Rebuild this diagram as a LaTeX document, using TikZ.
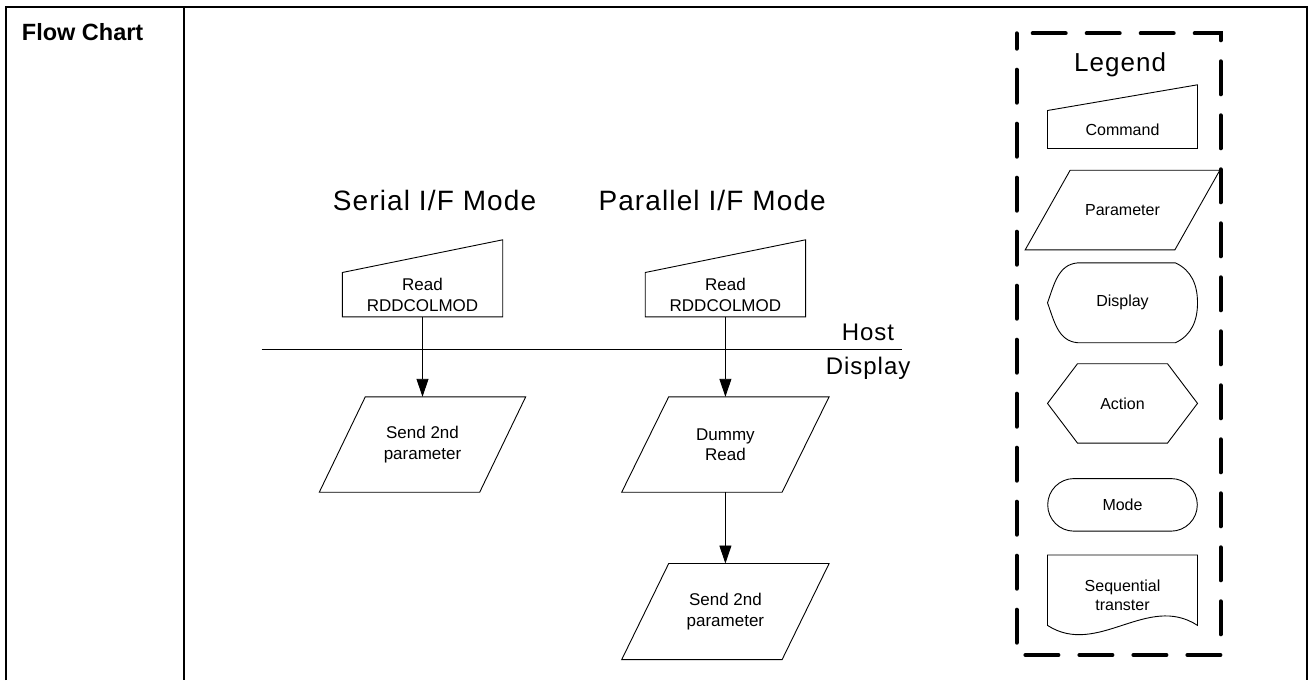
\documentclass[tikz,border=0pt]{standalone}
\usepackage{fontspec}
\setmainfont{Liberation Sans}
\newfontfamily\widefont[LetterSpace=4]{Liberation Sans}
\usepackage{tikz}
\usetikzlibrary{arrows.meta, positioning}

\begin{document}
\begin{tikzpicture}[x=1pt, y=-1pt, every node/.style={inner sep=0pt},
            shapeline/.style={draw=black, line width=0.9pt},
            flowtext/.style={align=center, font=\fontsize{17}{20.5}\selectfont},
            legtext/.style={align=center, font=\fontsize{16}{18.5}\selectfont},
            bigtext/.style={anchor=base west, font=\widefont\fontsize{#1}{#1}\selectfont},
            cmdbox/.style n args={3}{rectangle, minimum width=#1, minimum height=#2,
                append after command={\pgfextra{\draw[shapeline] (\tikzlastnode.north west) -- (\tikzlastnode.south west) -- (\tikzlastnode.south east) -- ([yshift=#3]\tikzlastnode.north east) -- cycle;}}},
            parbox/.style n args={3}{rectangle, minimum width=#1, minimum height=#2,
                append after command={\pgfextra{\draw[shapeline] (\tikzlastnode.south west) -- ([xshift=-#3]\tikzlastnode.south east) -- (\tikzlastnode.north east) -- ([xshift=#3]\tikzlastnode.north west) -- cycle;}}},
            dispbox/.style={rectangle, minimum width=149.6, minimum height=79.4,
                append after command={\pgfextra{\draw[shapeline] ([xshift=30]\tikzlastnode.north west) -- ([xshift=-22]\tikzlastnode.north east) to[out=-25,in=90] (\tikzlastnode.east) to[out=-90,in=25] ([xshift=-22]\tikzlastnode.south east) -- ([xshift=30]\tikzlastnode.south west) to[out=175,in=-70] (\tikzlastnode.west) to[out=70,in=-175] ([xshift=30]\tikzlastnode.north west);}}},
            actbox/.style={rectangle, minimum width=149.6, minimum height=79,
                append after command={\pgfextra{\draw[shapeline] (\tikzlastnode.west) -- ([xshift=30]\tikzlastnode.north west) -- ([xshift=-30]\tikzlastnode.north east) -- (\tikzlastnode.east) -- ([xshift=-30]\tikzlastnode.south east) -- ([xshift=30]\tikzlastnode.south west) -- cycle;}}},
            modebox/.style={rectangle, shapeline, rounded corners=26.3, minimum width=149.6, minimum height=52.6},
            seqbox/.style={rectangle, minimum width=149.6, minimum height=80,
                append after command={\pgfextra{\draw[shapeline] ([yshift=10]\tikzlastnode.south west) -- (\tikzlastnode.north west) -- (\tikzlastnode.north east) -- ([yshift=10]\tikzlastnode.south east) .. controls ([xshift=-50,yshift=42.7]\tikzlastnode.south east) and ([xshift=50,yshift=-22.3]\tikzlastnode.south west) .. ([yshift=10]\tikzlastnode.south west) -- cycle;}}},
            frame/.style={line width=2pt},
            legendframe/.style={line width=4pt, line cap=round, dash pattern=on 33pt off 21pt, dash phase=38pt},
            arrow/.style={line width=0.9pt, -{Triangle[length=18pt, width=12pt]}}]

            \useasboundingbox (0,0) rectangle (1309,680);

            % Table frame
            \draw [frame] (6,680) -- (6,7.3) -- (1306.7,7.3) -- (1306.7,680);
            \draw [frame] (184.3,7.3) -- (184.3,680);
            \node (heading) [anchor=base west, font=\bfseries\fontsize{23.5}{26}\selectfont] at (21.7,40.7) {Flow Chart};

            % Nodes
            \node (serial) [bigtext=28] at (332.7,210.7) {Serial I/F Mode};
            \node (parallel) [bigtext=28] at (598.3,210.7) {Parallel I/F Mode};

            \node (readS) [cmdbox={160}{44}{32.7}, flowtext] at (422.5,294.7) {Read\\RDDCOLMOD};
            \node (sendS) [parbox={206}{95}{46}, flowtext] at (422.5,444.5) {Send 2nd\\parameter};

            \node (readP) [cmdbox={160}{44}{32.7}, flowtext] at (725.4,294.7) {Read\\RDDCOLMOD};
            \node (dummyP) [parbox={207}{95}{47}, flowtext] at (725.4,444.5) {Dummy\\Read};
            \node (sendP) [parbox={207}{95.7}{47}, flowtext, below=71.3pt of dummyP] {Send 2nd\\parameter};

            % Host / Display boundary
            \coordinate (lineL) at (261.7,349);
            \coordinate (lineR) at (901.7,349);
            \draw [line width=0.9pt] (lineL) -- (lineR);
            \node (host) [bigtext=24] at (841.7,340) {Host};
            \node (display) [bigtext=24] at (825.7,374) {Display};

            % Arrows
            \draw [arrow] (readS) -- (sendS);
            \draw [arrow] (readP) -- (dummyP);
            \draw [arrow] (dummyP) -- (sendP);

            % Legend
            \draw [legendframe] (1016.7,33.3) -- (1220.7,33.3) -- (1220.7,655) -- (1016.7,655) -- cycle;
            \node (legend) [bigtext=26] at (1074,71.7) {Legend};
            \node (cmdL) [cmdbox={149.6}{37.6}{25.7}, legtext] at (1122.5,129.5) {Command};
            \node (parL) [parbox={194.3}{79.3}{45}, legtext, below=21.7pt of cmdL] {Parameter};
            \node (dispL) [dispbox, legtext, below=13pt of parL] {Display};
            \node (actL) [actbox, legtext, below=21pt of dispL] {Action};
            \node (modeL) [modebox, legtext, below=35pt of actL] {Mode};
            \node (seqL) [seqbox, legtext, below=23.4pt of modeL] {Sequential\\transter};
        \end{tikzpicture}
\end{document}
